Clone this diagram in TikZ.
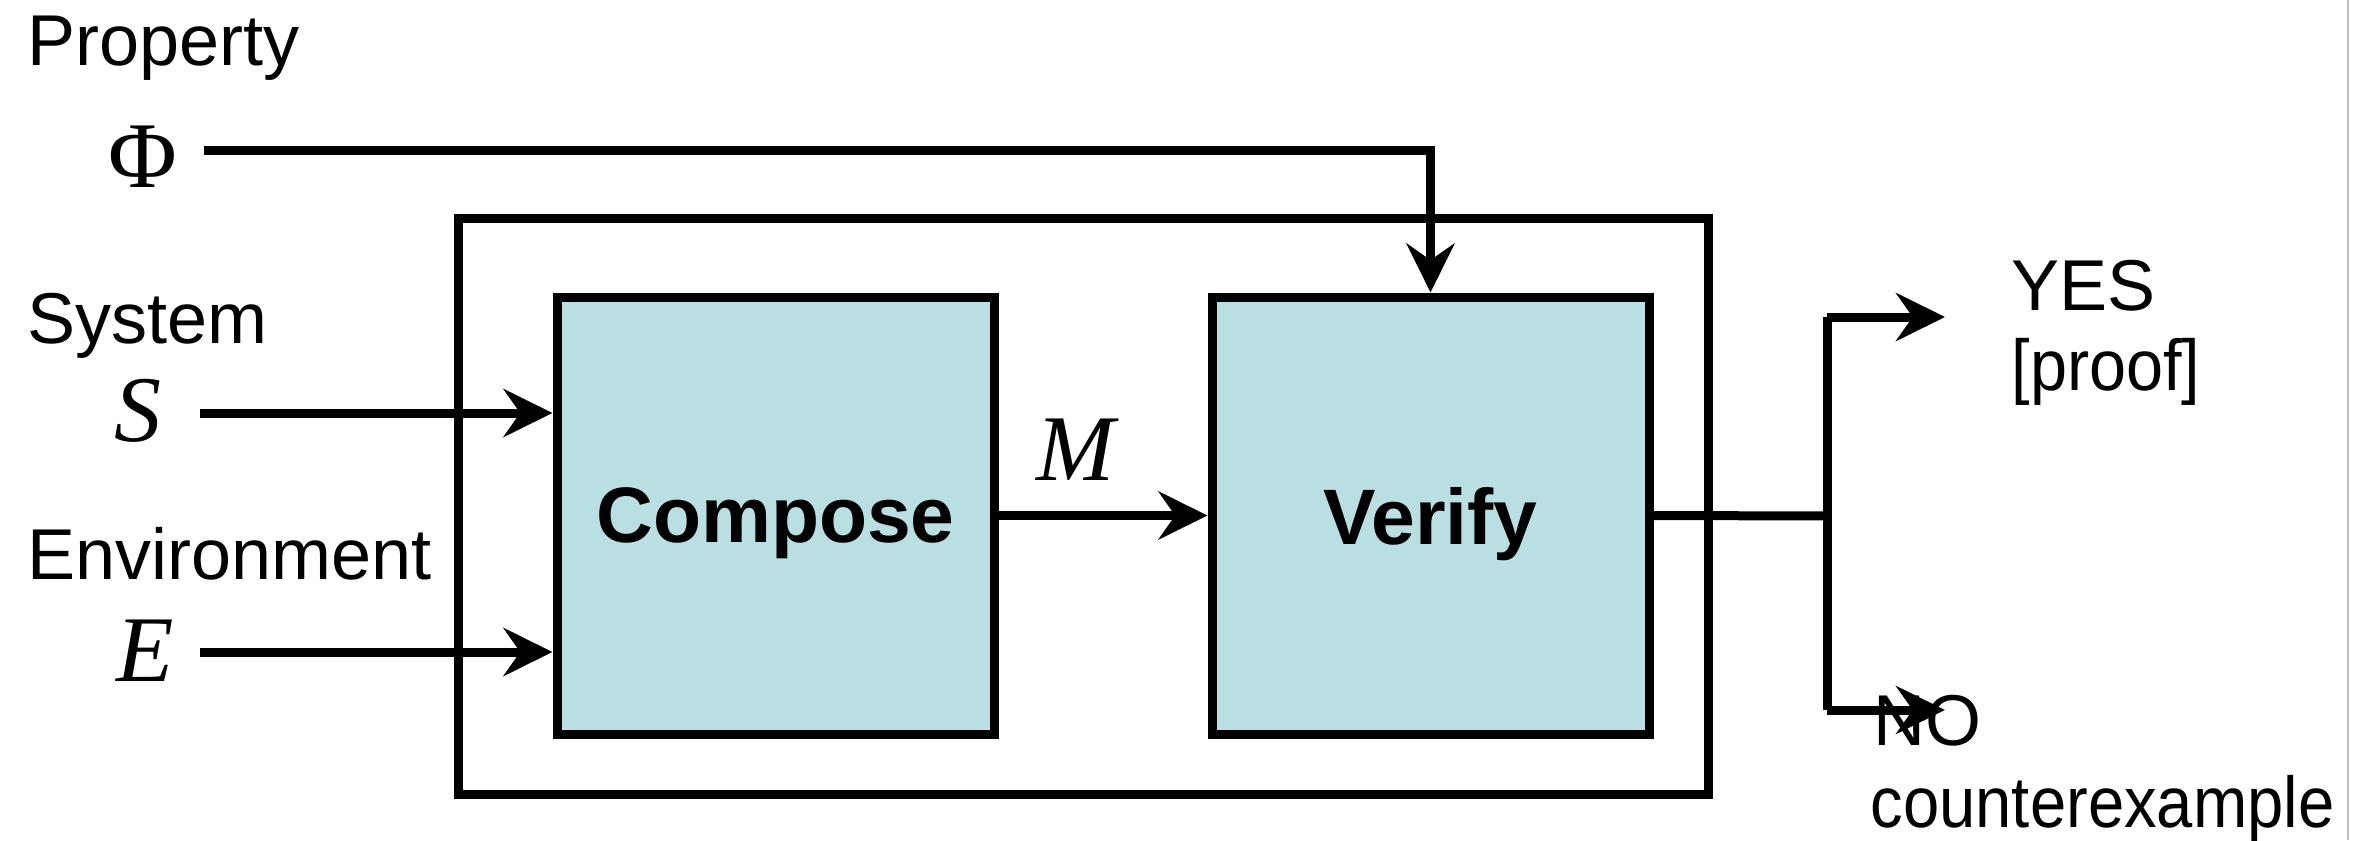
\documentclass[tikz,border=0pt]{standalone}
\usepackage{fontspec}
\setmainfont{Liberation Sans}
\newfontfamily\symserif{Liberation Serif}
\usetikzlibrary{arrows.meta}
\definecolor{boxfill}{RGB}{186,223,227}
\begin{document}
\begin{tikzpicture}[x=0.3pt,y=-0.3pt,
  wire/.style={line width=2.7pt},
  arrowwire/.style={wire,-{Stealth[length=14.7pt,width=14.4pt,inset=5pt]}},
  txt/.style={inner sep=0pt,anchor=base west,font=\fontsize{21.6pt}{26pt}\selectfont},
  sym/.style={inner sep=0pt,anchor=base,font=\fontsize{28.2pt}{32pt}\selectfont\symserif},
  block/.style={draw,line width=2.7pt,fill=boxfill,minimum width=131.1pt,
    minimum height=131.1pt,inner sep=0pt,text depth=0pt,
    font=\fontsize{23.6pt}{28pt}\selectfont\bfseries},
  outerbox/.style={draw,line width=2.7pt,minimum width=375pt,minimum height=172.8pt,inner sep=0pt}]
\useasboundingbox (0,0) rectangle (2368,840);

% thin page edge on the right
\draw[black!25,line width=0.45pt] (2348,0) -- (2348,840);

% enclosing frame and the two processing blocks
\node[outerbox] (frame) at (1083,506) {};
\node[block] (compose) at (775.5,515.5) {Compose};
\node[block] (verify) at (1430.5,515.5) {Verify};

% input labels
\node[txt] (property) at (27,66) {Property};
\node[txt] (system) at (27,343) {System};
\node[txt] (environment) at (27,579) {Environment};
\node[sym] (phi) at (143,187) {Φ};
\node[sym] (s) at (138,441) {\itshape S};
\node[sym] (e) at (145,681) {\itshape E};
\node[sym] (m) at (1076,480) {\itshape M};

% output labels
\node[txt] (yes) at (2011,310) {YES};
\node[txt] (proof) at (2011,390) {\scalebox{0.925}[1]{[proof]}};
\node[txt] (no) at (1873,745) {NO};
\node[txt] (cex) at (1870,827) {\scalebox{0.905}[1]{counterexample}};

% connector end points
\coordinate (phiout) at (204,151);
\coordinate (sout) at (200,413);
\coordinate (eout) at (200,652);
\coordinate (split) at (1827,516);
\coordinate (yesfork) at (1827,317);
\coordinate (nofork) at (1827,710);
\coordinate (yestip) at (1945,317);
\coordinate (notip) at (1945,710);

% connectors
\draw[arrowwire] (phiout) -| (verify.north);
\draw[arrowwire] (sout) -- (compose.west |- sout);
\draw[arrowwire] (eout) -- (compose.west |- eout);
\draw[arrowwire] (compose.east) -- (verify.west);
\draw[wire] (verify.east) -- (split);
\draw[wire] (yesfork) -- (nofork);
\draw[arrowwire] (yesfork) -- (yestip);
\draw[arrowwire] (nofork) -- (notip);
\end{tikzpicture}
\end{document}
